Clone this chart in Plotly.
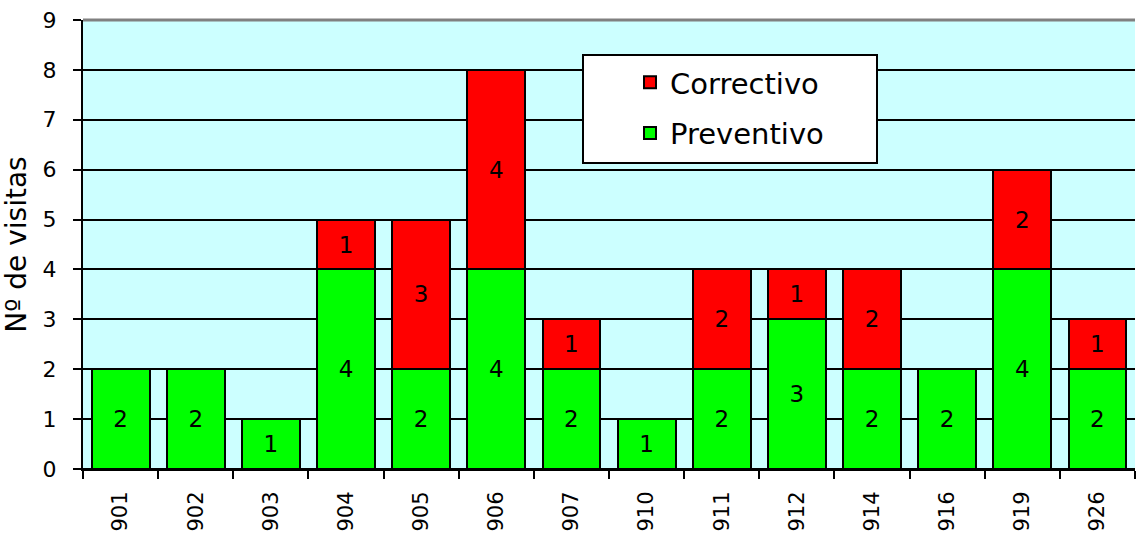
import plotly.graph_objects as go

categories = ["901", "902", "903", "904", "905", "906", "907", "910", "911", "912", "914", "916", "919", "926"]
preventivo = [2, 2, 1, 4, 2, 4, 2, 1, 2, 3, 2, 2, 4, 2]
correctivo = [0, 0, 0, 1, 3, 4, 1, 0, 2, 1, 2, 0, 2, 1]
y_ticks = list(range(0, 10))

FONT = "DejaVu Sans"

def labels(vals):
    return [str(v) if v else "" for v in vals]

fig = go.Figure()
fig.add_trace(go.Bar(
    x=categories, y=preventivo, name="Preventivo",
    marker=dict(color="#00FF00", line=dict(color="black", width=2)),
    text=labels(preventivo), textposition="inside", insidetextanchor="middle",
    textfont=dict(family=FONT, size=23, color="black"),
    constraintext="none", legendgroup="p", legendrank=2, hoverinfo="skip",
))
fig.add_trace(go.Bar(
    x=categories, y=correctivo, name="Correctivo",
    marker=dict(color="#FF0000", line=dict(color="black", width=2)),
    text=labels(correctivo), textposition="inside", insidetextanchor="middle",
    textfont=dict(family=FONT, size=23, color="black"),
    constraintext="none", legendgroup="c", legendrank=1, hoverinfo="skip",
))

x0 = (583 - 83) / 1052
x1 = (877 - 83) / 1052
y0 = (469 - 163) / 449
y1 = (469 - 55) / 449

fig.update_layout(
    width=1138, height=534,
    margin=dict(l=83, r=3, t=20, b=65),
    paper_bgcolor="white", plot_bgcolor="#CCFFFF",
    barmode="stack", bargap=0.23,
    font=dict(family=FONT, color="black"),
    showlegend=True,
    legend=dict(
        x=(630 - 83) / 1052, y=(469 - 57) / 449, xanchor="left", yanchor="top",
        bgcolor="rgba(0,0,0,0)", borderwidth=0,
        font=dict(family=FONT, size=29, color="black"),
        traceorder="grouped", tracegroupgap=10,
    ),
    xaxis=dict(
        type="category", tickangle=-90, tickson="boundaries",
        ticks="outside", ticklen=8, tickwidth=2, tickcolor="black",
        showline=True, linecolor="black", linewidth=2,
        tickfont=dict(family=FONT, size=21, color="black"),
        ticklabelstandoff=12,
        showgrid=False,
    ),
    yaxis=dict(
        range=[0, 9], tickvals=y_ticks, ticktext=[str(v) for v in y_ticks],
        ticks="outside", ticklen=8, tickwidth=2, tickcolor="black",
        showline=True, linecolor="black", linewidth=2,
        showgrid=True, gridcolor="black", gridwidth=2,
        zeroline=True, zerolinecolor="black", zerolinewidth=2,
        tickfont=dict(family=FONT, size=22, color="black"),
        ticklabelstandoff=12,
        title=dict(text="Nº de visitas", font=dict(family=FONT, size=28, color="black"), standoff=8),
    ),
    shapes=[
        dict(type="line", xref="paper", yref="paper", x0=0, x1=1, y0=1, y1=1,
             line=dict(color="#808080", width=3), layer="above"),
        dict(type="rect", xref="paper", yref="paper", x0=x0, x1=x1, y0=y0, y1=y1,
             fillcolor="white", line=dict(color="black", width=2), layer="above"),
    ],
)

fig.write_html("out.html")
